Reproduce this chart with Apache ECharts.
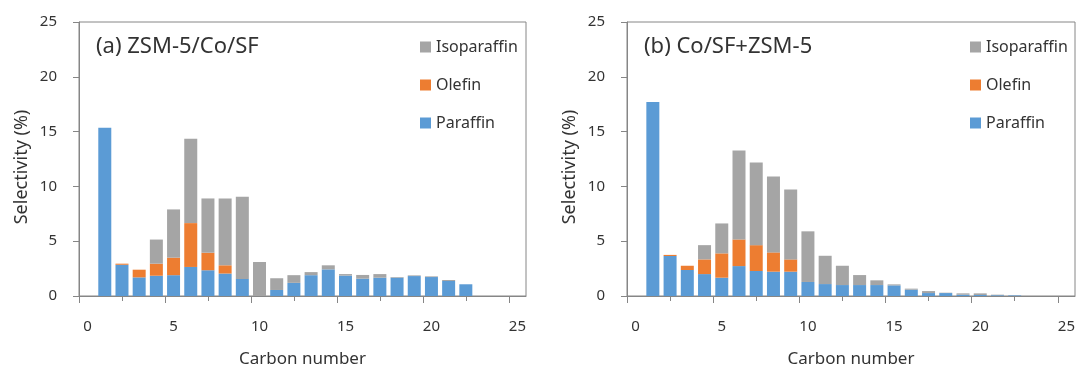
<!DOCTYPE html>
<html>
<head>
<meta charset="utf-8">
<script src="https://cdn.jsdelivr.net/npm/echarts@6/dist/echarts.min.js"></script>
<style>
  html, body { margin: 0; padding: 0; background: #fff; }
  #chart { width: 1079px; height: 365px; }
</style>
</head>
<body>
<div id="chart"></div>
<script>
// Carbon numbers C1..C22
const carbon = [1, 2, 3, 4, 5, 6, 7, 8, 9, 10, 11, 12, 13, 14, 15, 16, 17, 18, 19, 20, 21, 22];

// (a) ZSM-5/Co/SF selectivity (%)
const aParaffin    = [15.35, 2.85, 1.7, 1.85, 1.9, 2.65, 2.35, 2.05, 1.55, 0, 0.55, 1.2, 1.9, 2.43, 1.86, 1.58, 1.67, 1.67, 1.82, 1.73, 1.37, 1.07];
const aOlefin      = [0, 0.1, 0.7, 1.1, 1.6, 4.0, 1.6, 0.75, 0, 0, 0, 0, 0, 0, 0, 0, 0, 0, 0, 0, 0, 0];
const aIsoparaffin = [0, 0, 0, 2.2, 4.4, 7.7, 4.95, 6.1, 7.5, 3.1, 1.07, 0.7, 0.28, 0.37, 0.14, 0.34, 0.33, 0.06, 0.06, 0.06, 0.09, 0];

// (b) Co/SF+ZSM-5 selectivity (%)
const bParaffin    = [17.7, 3.65, 2.37, 2.0, 1.67, 2.73, 2.28, 2.22, 2.22, 1.28, 1.09, 1.0, 1.0, 1.0, 0.97, 0.58, 0.27, 0.27, 0.12, 0.09, 0.07, 0.05];
const bOlefin      = [0, 0.1, 0.39, 1.34, 2.22, 2.43, 2.36, 1.76, 1.12, 0, 0, 0, 0, 0, 0, 0, 0, 0, 0, 0, 0, 0];
const bIsoparaffin = [0, 0, 0, 1.3, 2.73, 8.11, 7.53, 6.92, 6.38, 4.62, 2.58, 1.76, 0.91, 0.43, 0.09, 0.09, 0.18, 0.03, 0.12, 0.15, 0.05, 0];

// Axis labels and tick positions
const xLabels = [0, 5, 10, 15, 20, 25];
const xMajorTicks = [-0.5, 4.5, 9.5, 14.5, 19.5, 24.5];
const xMinorTicks = [2, 7, 12, 17, 22];
const xMin = -0.5, xMax = 25.5;
const yMin = 0, yMax = 25, yStep = 5;

const panelTitles = ['(a) ZSM-5/Co/SF', '(b) Co/SF+ZSM-5'];
const yTitle = 'Selectivity (%)';
const xTitle = 'Carbon number';
const seriesNames = ['Isoparaffin', 'Olefin', 'Paraffin'];

const FONT = 'Noto Sans';
const TEXT = '#333333';
const LINE = '#868686';
const COLORS = { Paraffin: '#5B9BD5', Olefin: '#ED7D31', Isoparaffin: '#A5A5A5' };

// one category slot per integer carbon number across the axis range
const slots = [];
for (let c = Math.ceil(xMin); c <= Math.floor(xMax); c++) slots.push(String(c));

const rects = [
  { left: 79, right: 553, top: 22, bottom: 69 },
  { left: 627, right: 4, top: 22, bottom: 69 }
];

const gridOpts = [];
const xAxes = [];
const yAxes = [];

// grids 0,1: bars (category slots); grids 2,3: major ticks + tick labels; grids 4,5: minor ticks
const fixed = { outerBoundsMode: 'none', containLabel: false };
rects.forEach((r) => gridOpts.push(Object.assign({ show: true, borderColor: LINE, borderWidth: 1 }, fixed, r)));
rects.forEach((r) => gridOpts.push(Object.assign({ show: false }, fixed, r)));
rects.forEach((r) => gridOpts.push(Object.assign({ show: false }, fixed, r)));

rects.forEach((r, i) => {
  xAxes.push({
    type: 'category', gridIndex: i, data: slots, boundaryGap: true,
    axisLine: { show: true, lineStyle: { color: LINE, width: 1 } },
    axisTick: { show: false }, axisLabel: { show: false }, splitLine: { show: false }
  });
  yAxes.push({
    type: 'value', gridIndex: i, min: yMin, max: yMax, interval: yStep,
    axisLine: { show: true, lineStyle: { color: LINE, width: 1 } },
    axisTick: { show: true, length: 6, lineStyle: { color: LINE } },
    axisLabel: { show: false },
    splitLine: { show: false }
  });
});
rects.forEach((r, i) => {
  xAxes.push({
    type: 'value', gridIndex: i + 2, min: xMin, max: xMax,
    name: xTitle, nameLocation: 'middle', nameGap: 55,
    nameTextStyle: { fontFamily: FONT, fontSize: 17, color: TEXT },
    axisLine: { show: false },
    axisTick: { show: true, customValues: xMajorTicks, length: 7, lineStyle: { color: LINE } },
    axisLabel: { customValues: xLabels, margin: 23, fontFamily: FONT, fontSize: 15, color: TEXT },
    splitLine: { show: false }
  });
  yAxes.push({
    type: 'value', gridIndex: i + 2, min: yMin, max: yMax, interval: yStep, offset: 14,
    axisLine: { show: false }, axisTick: { show: false },
    axisLabel: { margin: 8, fontFamily: FONT, fontSize: 15, color: TEXT },
    splitLine: { show: false }
  });
});
rects.forEach((r, i) => {
  xAxes.push({
    type: 'value', gridIndex: i + 4, min: xMin, max: xMax,
    axisLine: { show: false },
    axisTick: { show: true, customValues: xMinorTicks, length: 5, lineStyle: { color: LINE } },
    axisLabel: { show: false }, splitLine: { show: false }
  });
  yAxes.push({ type: 'value', gridIndex: i + 4, min: yMin, max: yMax, show: false, splitLine: { show: false } });
});

function barSeries(name, values, axisIndex, stack) {
  const data = slots.map(() => '-');
  carbon.forEach((c, k) => { data[slots.indexOf(String(c))] = values[k]; });
  return {
    name: name, type: 'bar', stack: stack,
    xAxisIndex: axisIndex, yAxisIndex: axisIndex,
    barWidth: 13,
    itemStyle: { color: COLORS[name] },
    data: data
  };
}

const series = [
  barSeries('Paraffin', aParaffin, 0, 'a'),
  barSeries('Olefin', aOlefin, 0, 'a'),
  barSeries('Isoparaffin', aIsoparaffin, 0, 'a'),
  barSeries('Paraffin', bParaffin, 1, 'b'),
  barSeries('Olefin', bOlefin, 1, 'b'),
  barSeries('Isoparaffin', bIsoparaffin, 1, 'b')
];

const legendBase = {
  orient: 'vertical', top: 32, itemWidth: 11, itemHeight: 11, itemGap: 18,
  icon: 'rect', data: seriesNames, selectedMode: false,
  textStyle: { fontFamily: FONT, fontSize: 16, color: TEXT, lineHeight: 20 }
};

// rotated y-axis titles, one per panel
const yTitleGraphics = [22, 570].map((x) => ({
  type: 'text', x: x, y: 167, rotation: Math.PI / 2,
  style: { text: yTitle, font: '18px "Noto Sans"', fill: TEXT, align: 'center', verticalAlign: 'middle' }
}));

const chart = echarts.init(document.getElementById('chart'));
chart.setOption({
  animation: false,
  title: [
    { text: panelTitles[0], left: 91, top: 31, textStyle: { fontFamily: FONT, fontSize: 22, fontWeight: 'normal', color: TEXT } },
    { text: panelTitles[1], left: 639, top: 31, textStyle: { fontFamily: FONT, fontSize: 22, fontWeight: 'normal', color: TEXT } }
  ],
  legend: [
    Object.assign({ left: 415 }, legendBase),
    Object.assign({ left: 965 }, legendBase)
  ],
  graphic: yTitleGraphics,
  grid: gridOpts,
  xAxis: xAxes,
  yAxis: yAxes,
  series: series
});
</script>
</body>
</html>
